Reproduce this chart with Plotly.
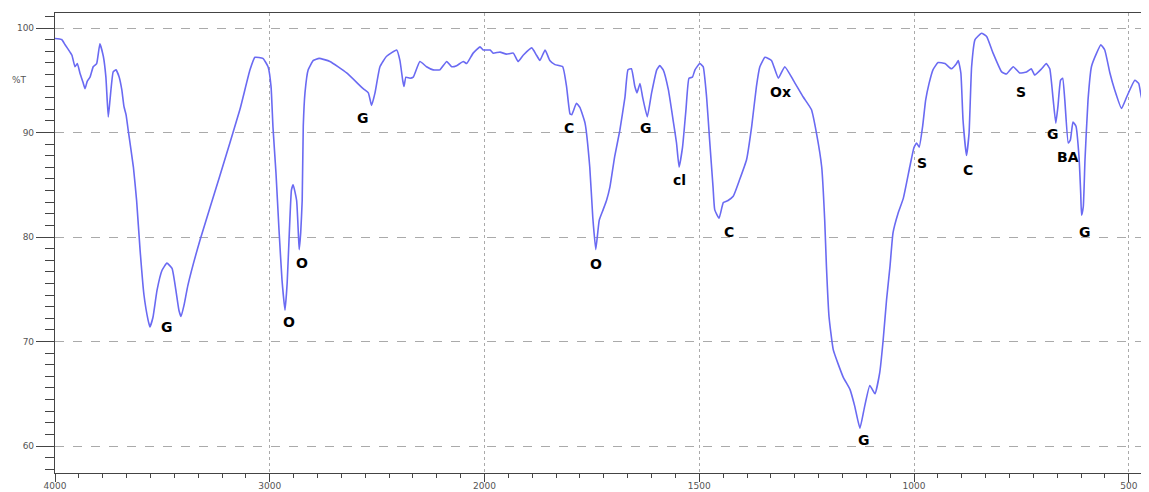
import plotly.graph_objects as go

# FTIR spectrum (wavenumber cm-1, %T)
wavenumber = [4000, 3969, 3953, 3930, 3921, 3907, 3896, 3884, 3868, 3860, 3850, 3837, 3822, 3806,
              3791, 3775, 3763, 3752, 3744, 3729, 3716, 3701, 3689, 3679, 3669, 3659, 3635, 3620,
              3604, 3586, 3567, 3558, 3544, 3525, 3502, 3479, 3455, 3437, 3423, 3413, 3399, 3381,
              3325, 3232, 3139, 3092, 3069, 3032, 3008, 2994, 2985, 2971, 2957, 2943, 2929, 2919,
              2909, 2899, 2891, 2875, 2867, 2863, 2856, 2849, 2844, 2836, 2821, 2797, 2770, 2720,
              2642, 2565, 2541, 2526, 2510, 2487, 2456, 2409, 2394, 2381, 2375, 2366, 2347, 2332,
              2301, 2270, 2239, 2208, 2176, 2153, 2130, 2099, 2083, 2053, 2021, 2006,
              1987, 1980, 1964, 1949, 1933, 1922, 1910, 1890, 1879, 1871, 1859, 1848, 1836, 1818,
              1809, 1801, 1797, 1786, 1778, 1766, 1755, 1748, 1741, 1733, 1724, 1716, 1708, 1697,
              1685, 1673, 1666, 1658, 1650, 1645, 1638, 1632, 1621, 1611, 1599, 1592, 1584, 1572,
              1561, 1553, 1547, 1539, 1531, 1524, 1516, 1510, 1499, 1491, 1483, 1476, 1468, 1464,
              1454, 1444, 1433, 1421, 1406, 1390, 1378, 1367, 1359, 1347, 1332, 1316, 1301, 1281,
              1258, 1239, 1227, 1215, 1208, 1204, 1198, 1188, 1165, 1149, 1138, 1126, 1115, 1103,
              1091, 1080, 1072, 1064, 1056, 1049, 1037, 1025, 1010, 1000, 994, 988, 980, 973,
              965, 956, 944, 928, 913, 901, 897, 891, 886, 878, 872, 866, 858, 843, 831, 816,
              796, 785, 769, 754, 738, 727, 719, 703, 692, 684, 676, 670, 665, 659, 654, 649,
              641, 636, 630, 623, 616, 612, 610, 606, 602, 595, 587, 575, 565, 556, 544, 533,
              517, 505, 486, 477, 469, 461, 456]
transmittance = [99.0, 98.9, 98.4, 97.7, 97.4, 96.3, 96.6, 95.7, 94.7, 94.2, 94.9, 95.3, 96.3, 96.6,
                 98.5, 97.3, 95.3, 91.5, 93.1, 95.8, 96.0, 95.3, 94.1, 92.5, 91.7, 90.2, 86.7, 83.5,
                 78.8, 74.5, 72.1, 71.4, 72.3, 74.9, 76.8, 77.5, 77.0, 74.9, 73.0, 72.4, 73.5, 75.4,
                 79.7, 85.9, 92.2, 96.0, 97.2, 97.1, 96.3, 94.4, 90.5, 86.1, 80.7, 75.9, 73.0, 75.6,
                 80.4, 84.5, 85.0, 83.5, 80.4, 78.8, 80.4, 83.5, 90.6, 93.8, 96.0, 96.9, 97.1, 96.8,
                 95.7, 94.2, 93.8, 92.6, 93.8, 96.3, 97.3, 97.9, 96.9, 95.0, 94.4, 95.3, 95.2, 95.3,
                 96.8, 96.3, 96.0, 96.0, 96.8, 96.3, 96.4, 96.8, 96.6, 97.6, 98.2, 97.9,
                 97.9, 97.6, 97.7, 97.5, 97.6, 96.8, 97.4, 98.1, 97.4, 96.9, 97.9, 96.9, 96.5, 96.3,
                 94.4, 91.8, 91.7, 92.8, 92.4, 90.9, 86.7, 81.9, 78.8, 81.6, 82.6, 83.5, 84.8, 87.7,
                 90.2, 93.4, 96.0, 96.1, 94.4, 93.8, 94.7, 93.4, 91.5, 93.8, 96.0, 96.4, 96.0, 94.1,
                 91.2, 89.0, 86.7, 88.6, 92.2, 95.2, 95.3, 96.0, 96.6, 96.3, 93.4, 89.3, 84.8, 82.6,
                 81.8, 83.3, 83.5, 83.9, 85.5, 87.4, 90.6, 94.4, 96.3, 97.2, 96.9, 95.2, 96.3, 95.0,
                 93.4, 92.2, 89.9, 86.7, 81.6, 77.2, 72.4, 69.2, 66.6, 65.4, 63.8, 61.7, 63.8, 65.8,
                 65.0, 67.0, 70.1, 74.0, 77.2, 80.4, 82.3, 83.7, 86.7, 88.6, 89.0, 88.6, 90.6, 93.1,
                 94.7, 96.0, 96.7, 96.6, 96.1, 96.6, 96.9, 95.7, 91.2, 87.8, 89.9, 96.3, 98.9, 99.5, 99.2, 97.6,
                 95.8, 95.6, 96.3, 95.7, 95.8, 96.1, 95.5, 96.1, 96.6, 96.1, 93.1, 90.9, 92.5, 95.0, 95.2, 93.1,
                 89.0, 89.3, 91.0, 90.6, 87.7, 84.2, 82.1, 82.9, 87.4, 93.1, 96.3, 97.6, 98.4, 97.9, 95.7, 94.1,
                 92.3, 93.4, 95.0, 94.7, 93.1, 93.6, 93.4]

# Peak labels
label_text = ["G", "O", "O", "G", "C", "O", "G", "cl", "C", "Ox", "S", "C", "S", "G", "BA", "G", "G"]
label_wn = [3479, 2911, 2850, 2566, 1804, 1741, 1624, 1545, 1431, 1310, 982, 875, 751, 677, 642, 602, 1117]
label_t = [71.4, 71.9, 77.5, 91.4, 90.4, 77.4, 90.4, 85.5, 80.5, 93.9, 87.1, 86.4, 93.9, 89.9, 87.7, 80.5, 60.6]

# Axis ticks
x_tick_wn = [4000, 3000, 2000, 1500, 1000, 500]
y_ticks = [60, 70, 80, 90, 100]


def split_scale(w):
    """Instrument-style split axis: region above 2000 cm-1 compressed by a factor 2."""
    return w if w <= 2000 else 2000 + (w - 2000) / 2.0


xs = [split_scale(w) for w in wavenumber]
lx = [split_scale(w) for w in label_wn]

fig = go.Figure()
fig.add_trace(go.Scatter(x=xs, y=transmittance, mode="lines",
                         line=dict(color="#6a6af2", width=1.6, shape="spline", smoothing=0.4),
                         hoverinfo="skip", showlegend=False))

for txt, x, y in zip(label_text, lx, label_t):
    fig.add_annotation(x=x, y=y, text=txt, showarrow=False, xanchor="center", yanchor="middle",
                       font=dict(family="DejaVu Sans, Arial", size=14, color="black", weight="bold"))

fig.add_annotation(xref="paper", yref="y", x=-0.032, y=95, text="%T", showarrow=False,
                   xanchor="center", yanchor="middle",
                   font=dict(family="DejaVu Sans, Arial", size=9, color="#555"))

fig.update_layout(
    width=1141, height=484,
    margin=dict(l=47, r=0, t=5, b=19),
    paper_bgcolor="white", plot_bgcolor="white",
    xaxis=dict(
        range=[split_scale(4000), split_scale(453)],
        automargin=False,
        tickmode="array",
        tickvals=[split_scale(w) for w in x_tick_wn],
        ticktext=[str(w) for w in x_tick_wn],
        ticks="outside", ticklen=8, tickcolor="#444", tickwidth=1,
        ticklabelstandoff=-4,
        showline=True, linecolor="#444", linewidth=1.2, mirror=True,
        showgrid=True, gridcolor="#aaaaaa", griddash="dot", gridwidth=1,
        zeroline=False,
        tickfont=dict(family="DejaVu Sans, Arial", size=9, color="#555"),
        minor=dict(tickmode="linear", tick0=500, dtick=500 / 9, ticks="outside", ticklen=4,
                   tickcolor="#444", showgrid=False),
    ),
    yaxis=dict(
        range=[57.42, 101.44],
        automargin=False,
        tickmode="array", tickvals=y_ticks, ticktext=[str(v) for v in y_ticks],
        ticks="outside", ticklen=18, tickcolor="#444", tickwidth=1,
        showline=True, linecolor="#444", linewidth=1.2,
        showgrid=True, gridcolor="#aaaaaa", griddash="dash", gridwidth=1,
        zeroline=False,
        tickfont=dict(family="DejaVu Sans, Arial", size=9, color="#555"),
        minor=dict(tickmode="linear", tick0=60, dtick=10 / 9, ticks="outside", ticklen=9,
                   tickcolor="#444", showgrid=False),
    ),
)

fig.write_html("out.html")
